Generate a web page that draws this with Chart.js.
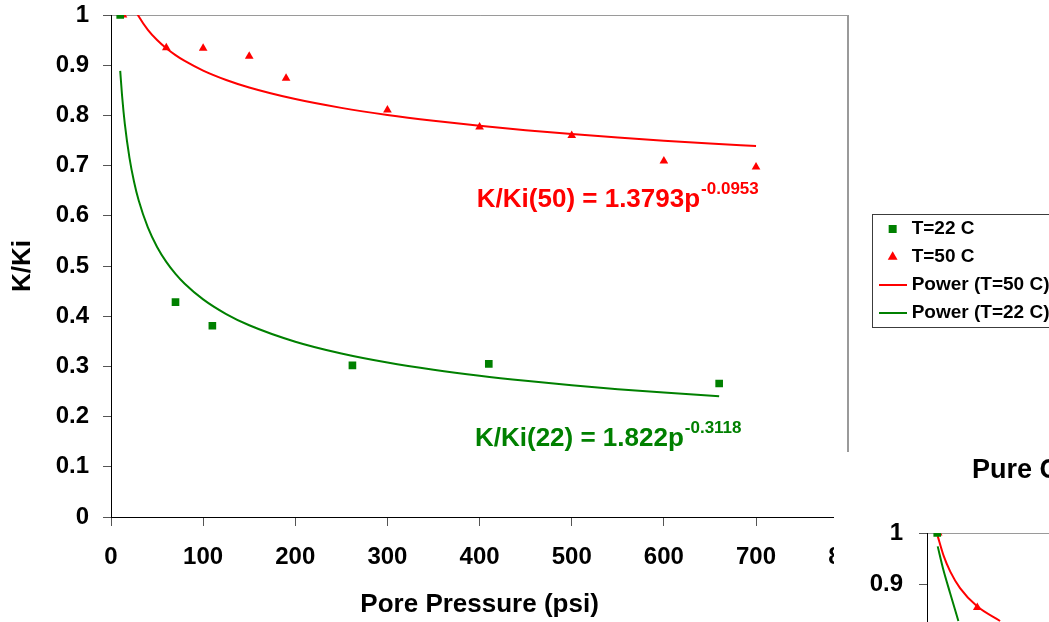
<!DOCTYPE html>
<html>
<head>
<meta charset="utf-8">
<script src="https://cdn.jsdelivr.net/npm/chart.js@4.4.1/dist/chart.umd.min.js"></script>
<style>
html, body { margin:0; padding:0; background:#fff; overflow:hidden; width:1049px; height:622px; }
#main { position:absolute; left:0; top:0; }
#inset { position:absolute; left:834px; top:452px; background:#fff; }
</style>
</head>
<body>
<canvas id="main" width="1049" height="622"></canvas>
<canvas id="inset" width="373" height="601"></canvas>
<script>
// ---------- data ----------
const xTickLabels = ['0','100','200','300','400','500','600','700','800'];
const yTickLabels = ['0','0.1','0.2','0.3','0.4','0.5','0.6','0.7','0.8','0.9','1'];

const p22 = [10, 70, 110, 262, 410, 660];
const k22 = [1.0, 0.428, 0.381, 0.302, 0.305, 0.266];

const p50 = [13, 60, 100, 150, 190, 300, 400, 500, 600, 700];
const k50 = [1.0, 0.935, 0.934, 0.918, 0.874, 0.811, 0.777, 0.760, 0.709, 0.697];

// trendline values as drawn (K/Ki(50) = 1.3793p^-0.0953)
const fitP50 = [10,15,20,25,30,40,50,60,70,80,100,125,150,200,250,300,350,400,450,500,550,600,650,700];
const fitK50 = [1.1075,1.0656,1.0368,1.0149,0.9975,0.9705,0.9501,0.9337,0.9201,0.9084,0.8893,0.8706,0.8556,0.8325,0.8150,0.8009,0.7893,0.7793,0.7706,0.7629,0.7560,0.7497,0.7440,0.7388];

// trendline values as drawn (K/Ki(22) = 1.822p^-0.3118)
const fitP22 = [10,12,15,20,25,30,40,50,60,70,80,100,125,150,200,250,300,350,400,450,500,550,600,660];
const fitK22 = [0.8887,0.8396,0.7831,0.7160,0.6678,0.6309,0.5768,0.5380,0.5083,0.4844,0.4647,0.4335,0.4043,0.3820,0.3492,0.3257,0.3077,0.2933,0.2813,0.2712,0.2624,0.2547,0.2479,0.2407];

const seriesNames = ['T=22 C', 'T=50 C', 'Power (T=50 C)', 'Power (T=22 C)'];
const eqMain = ['K/Ki(50) = 1.3793p', 'K/Ki(22) = 1.822p'];
const eqSup  = ['-0.0953', '-0.3118'];

// second (partly visible) chart
const insetTitle = 'Pure C';
const insetP22 = [11];
const insetK22 = [1.0];
const insetP50 = [12, 54];
const insetK50 = [1.0, 0.855];
const insetFitP50 = [11.5, 18, 25, 35.5, 53.5, 78.5];
const insetFitK50 = [0.994, 0.955, 0.925, 0.893, 0.858, 0.829];
const insetFitP22 = [11.5, 17.5, 24.7, 33.7];
const insetFitK22 = [0.974, 0.929, 0.884, 0.829];

// ---------- styling ----------
const FONT = "'Liberation Sans', Arial, Helvetica, sans-serif";
const RED = '#FF0000', GREEN = '#008000', BORDER_GRAY = '#9a9a9a', TICK_GRAY = '#555555';
const eqColors = [RED, GREEN];
const eqAnchor = [{p: 397, k: 0.617}, {p: 395, k: 0.142}];

const toXY = (xs, ys) => xs.map((x, i) => ({x: x, y: ys[i]}));
function lineSwatch(color) {
  const c = document.createElement('canvas');
  c.width = 28; c.height = 2;
  const g = c.getContext('2d');
  g.fillStyle = color; g.fillRect(0, 0, 28, 2);
  return c;
}

const equationPlugin = {
  id: 'equations',
  afterDatasetsDraw(chart) {
    const ctx = chart.ctx, xs = chart.scales.x, ys = chart.scales.y;
    eqMain.forEach((txt, i) => {
      const px = xs.getPixelForValue(eqAnchor[i].p);
      const py = ys.getPixelForValue(eqAnchor[i].k);
      ctx.save();
      ctx.fillStyle = eqColors[i];
      ctx.textAlign = 'left';
      ctx.textBaseline = 'alphabetic';
      ctx.font = 'bold 26px ' + FONT;
      ctx.fillText(txt, px, py);
      const w = ctx.measureText(txt).width;
      ctx.font = 'bold 17px ' + FONT;
      ctx.fillText(eqSup[i], px + w + 1, py - 13);
      ctx.restore();
    });
  }
};

const legendBoxPlugin = {
  id: 'legendBox',
  afterDraw(chart) {
    const lg = chart.legend;
    if (!lg || !lg.legendHitBoxes || !lg.legendHitBoxes.length) return;
    const hb = lg.legendHitBoxes;
    const first = hb[0], last = hb[hb.length - 1];
    const ctx = chart.ctx;
    const l = Math.round(first.left - 11) + 0.5;
    const t = Math.round(first.top - 6) + 0.5;
    const b = Math.round(last.top + last.height + 4) + 0.5;
    ctx.save();
    ctx.strokeStyle = '#3c3c3c';
    ctx.lineWidth = 1;
    ctx.strokeRect(l, t, chart.width + 20 - l, b - t);
    ctx.restore();
  }
};

const isVal = (c, v) => c.tick && Math.abs(c.tick.value - v) < 1e-9;

new Chart(document.getElementById('main'), {
  type: 'scatter',
  data: {
    datasets: [
      { label: seriesNames[0], data: toXY(p22, k22), pointStyle: 'rect', pointRadius: 5.4, pointHoverRadius: 5.4,
        backgroundColor: GREEN, borderColor: GREEN, borderWidth: 0 },
      { label: seriesNames[1], data: toXY(p50, k50), pointStyle: 'triangle', pointRadius: 5, pointHoverRadius: 5,
        backgroundColor: RED, borderColor: RED, borderWidth: 0 },
      { type: 'line', label: seriesNames[2], data: toXY(fitP50, fitK50), showLine: true, pointRadius: 0,
        pointStyle: lineSwatch(RED), borderColor: RED, backgroundColor: RED, borderWidth: 2, cubicInterpolationMode: 'monotone', fill: false },
      { type: 'line', label: seriesNames[3], data: toXY(fitP22, fitK22), showLine: true, pointRadius: 0,
        pointStyle: lineSwatch(GREEN), borderColor: GREEN, backgroundColor: GREEN, borderWidth: 2, cubicInterpolationMode: 'monotone', fill: false }
    ]
  },
  options: {
    responsive: false,
    animation: false,
    devicePixelRatio: 1,
    layout: { padding: { top: 15, left: 0, right: 0, bottom: 0 } },
    scales: {
      x: {
        type: 'linear', position: 'bottom', min: 0, max: 800,
        ticks: { stepSize: 100, color: '#000', padding: 17, font: { family: FONT, size: 24, weight: 'bold' },
                 callback: (v) => xTickLabels[Math.round(v / 100)] },
        grid: { drawOnChartArea: true, color: (c) => isVal(c, 800) ? BORDER_GRAY : 'rgba(0,0,0,0)',
                lineWidth: (c) => isVal(c, 800) ? 2 : 1, tickColor: TICK_GRAY, tickLength: 9, tickWidth: 1 },
        border: { color: '#000', width: 1 },
        title: { display: true, text: 'Pore Pressure (psi)', color: '#000', font: { family: FONT, size: 26, weight: 'bold' },
                 padding: { top: 0, bottom: 2 } },
        afterFit: (s) => { s.height = 105; }
      },
      y: {
        type: 'linear', position: 'left', min: 0, max: 1,
        ticks: { stepSize: 0.1, color: '#000', padding: 14, font: { family: FONT, size: 24, weight: 'bold' },
                 callback: (v) => yTickLabels[Math.round(v * 10)] },
        grid: { drawOnChartArea: true, color: (c) => isVal(c, 1) ? BORDER_GRAY : 'rgba(0,0,0,0)',
                tickColor: TICK_GRAY, tickLength: 8, tickWidth: 1 },
        border: { color: '#000', width: 1 },
        title: { display: true, text: 'K/Ki', color: '#000', font: { family: FONT, size: 26, weight: 'bold' },
                 padding: { top: 7, bottom: 0 } },
        afterFit: (s) => { s.width = 111; s.paddingTop = 0; s.paddingBottom = 0; }
      },
      y2: {
        type: 'linear', position: 'right', min: 0, max: 1, display: true,
        grid: { display: false, drawOnChartArea: false, drawTicks: false },
        ticks: { display: false },
        border: { display: false },
        afterFit: (s) => { s.width = 26; s.paddingTop = 0; s.paddingBottom = 0; }
      }
    },
    plugins: {
      legend: {
        display: true, position: 'right', align: 'center', fullSize: false,
        title: { display: true, text: '', font: { size: 1 }, padding: { top: 0, bottom: 8.8 } },
        labels: { color: '#000', font: { family: FONT, size: 19, weight: 'bold' },
                  usePointStyle: true, boxWidth: 19, boxHeight: 8, padding: 9 }
      },
      tooltip: { enabled: false },
      title: { display: false }
    }
  },
  plugins: [equationPlugin, legendBoxPlugin]
});

// second chart, partly visible in the lower right corner
new Chart(document.getElementById('inset'), {
  type: 'scatter',
  data: {
    datasets: [
      { label: seriesNames[0], data: toXY(insetP22, insetK22), pointStyle: 'rect', pointRadius: 5.4,
        backgroundColor: GREEN, borderColor: GREEN, borderWidth: 0 },
      { label: seriesNames[1], data: toXY(insetP50, insetK50), pointStyle: 'triangle', pointRadius: 5,
        backgroundColor: RED, borderColor: RED, borderWidth: 0 },
      { type: 'line', label: seriesNames[2], data: toXY(insetFitP50, insetFitK50), showLine: true, pointRadius: 0,
        borderColor: RED, borderWidth: 2, cubicInterpolationMode: 'monotone', fill: false },
      { type: 'line', label: seriesNames[3], data: toXY(insetFitP22, insetFitK22), showLine: true, pointRadius: 0,
        borderColor: GREEN, borderWidth: 2, cubicInterpolationMode: 'monotone', fill: false }
    ]
  },
  options: {
    responsive: false,
    animation: false,
    devicePixelRatio: 1,
    layout: { padding: { top: 0, left: 0, right: 10, bottom: 0 } },
    scales: {
      x: { type: 'linear', min: 0, max: 290, display: false },
      y: {
        type: 'linear', position: 'left', min: 0, max: 1,
        ticks: { stepSize: 0.1, color: '#000', padding: 16, font: { family: FONT, size: 24, weight: 'bold' },
                 callback: (v) => yTickLabels[Math.round(v * 10)] },
        grid: { drawOnChartArea: true, color: (c) => isVal(c, 1) ? BORDER_GRAY : 'rgba(0,0,0,0)',
                tickColor: TICK_GRAY, tickLength: 8, tickWidth: 1 },
        border: { color: '#000', width: 1 },
        afterFit: (s) => { s.width = 93; s.paddingTop = 0; s.paddingBottom = 0; }
      }
    },
    plugins: {
      legend: { display: false },
      tooltip: { enabled: false },
      title: { display: true, text: insetTitle, color: '#000', font: { family: FONT, size: 27, weight: 'bold' },
               padding: { top: 2, bottom: 46.6 } }
    }
  }
});
</script>
</body>
</html>
